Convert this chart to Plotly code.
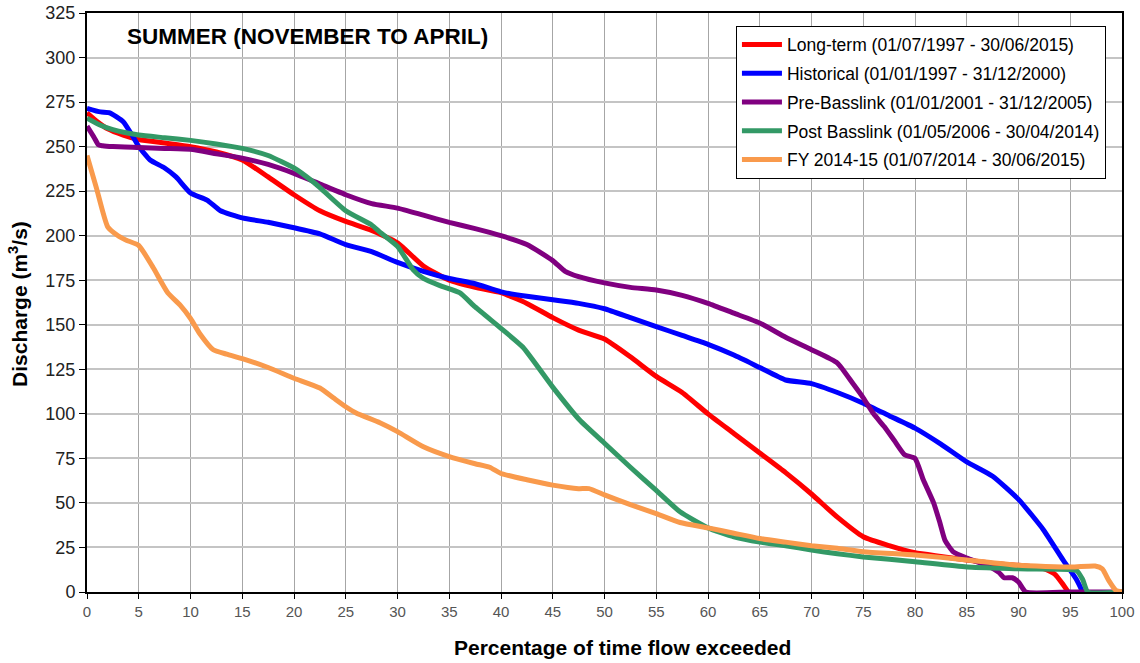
import plotly.graph_objects as go

# ---- data ----
longterm_x = [0, 1, 2, 3.5, 5, 7.5, 10, 12.5, 15, 17.5, 20, 22.5, 25, 27.5, 30, 32.5, 35, 37.5, 40, 42.5, 45, 47.5,
              50, 52.5, 55, 57.5, 60, 62.5, 65, 67.5, 70, 72.5, 75, 77.5, 80, 82.5, 85, 87.5, 90, 92.5, 93.5, 94.2, 94.8]
longterm_y = [269, 264, 260, 256.5, 254, 252, 250, 247, 242.5, 233, 223, 214, 208, 203, 196, 183, 175, 171, 168, 162, 154, 147,
              142, 132, 121, 112, 100, 89, 78, 67, 55, 42, 31, 26, 22, 20, 18, 16, 15, 13, 10, 5, 0]

hist_x = [0, 1.3, 2.2, 3.5, 4.4, 5, 6.1, 7.5, 8.6, 10, 11.6, 12.9, 15, 17.5, 20, 22.5, 25, 27.5, 30, 32.5, 35, 37.5,
          40, 42.5, 45, 47.5, 50, 52.5, 55, 57.5, 60, 62.5, 65, 67.5, 70, 72.5, 75, 77.5, 80, 82.5, 85, 87.5, 90,
          92.4, 94.3, 95.6, 96.2]
hist_y = [271.5, 269.5, 269, 264, 256, 250, 242.5, 238, 233, 224, 220, 214, 210, 207.5, 204.5, 201, 195, 191, 185, 180,
          176, 173, 168.5, 166, 164, 162, 159, 154, 149, 144, 139, 133, 126, 119, 117, 112, 106, 99, 92, 83, 73, 65,
          52, 35, 18, 7, 0]

pre_x = [0, 0.7, 1.1, 1.5, 2.5, 5, 7.5, 10, 12.5, 15, 17.5, 20, 22.5, 25, 27.5, 30, 32.5, 35, 37.5, 40, 42.5, 45,
         46.2, 47.5, 50, 52.5, 55, 57.5, 60, 62.5, 65, 67.5, 70, 72.5, 74, 75, 76, 77, 78, 79, 80, 80.8, 81.8, 82.4,
         82.9, 83.7, 85, 86.9, 88.1, 88.6, 89.4, 90, 90.7, 95, 100]
pre_y = [261.5, 255, 251, 250.5, 250, 249.5, 249, 248.5, 246, 243.5, 240, 235, 229, 223, 218, 215.5, 211.5, 207.5,
         204, 200, 195, 186, 180, 177, 173.5, 171, 169.5, 166.5, 162, 156.5, 151, 143, 136, 128.5, 117, 109, 100, 93,
         85, 77, 75, 63, 50, 39, 29, 22.5, 19, 15, 11, 8, 8, 5.6, 0, 0, 0]

post_x = [0, 1.3, 2.5, 5, 7.5, 10, 12.5, 15, 17.5, 20, 21.9, 22.5, 25, 27.5, 28.3, 30, 31.5, 32.5, 34.1, 36, 37.5,
          40, 42.1, 45, 47.6, 50, 52.5, 55, 57.3, 60, 62.5, 65, 67.5, 70, 72.5, 75, 80, 85, 90, 95.6, 96.2, 96.7, 100]
post_y = [266, 262, 259.5, 256.5, 255, 253.5, 251.5, 249, 245, 238, 230, 227, 214, 206, 202, 194, 181, 176, 172, 168,
          160, 148, 137.5, 115, 96.5, 83.5, 70, 57, 45, 36, 31, 28, 26, 23.5, 21.5, 19.7, 17, 14, 13, 12, 7, 0, 0]

fy_x = [0, 0.9, 2, 3, 3.8, 5, 6.4, 7.8, 9, 10, 10.9, 12.2, 13.5, 15, 17.5, 20, 22.5, 23.8, 25, 26, 28.3, 30, 32.5,
        35, 37.5, 38.9, 40, 42.5, 45, 47.5, 48.5, 50, 52.5, 55, 57.3, 60, 62.5, 65, 67.5, 70, 72.5, 75, 80, 85, 90,
        95.1, 97.4, 98.1, 98.7, 99.4, 100]
fy_y = [245, 227, 205, 200, 197.5, 194.5, 182, 168, 161, 153.5, 145, 136, 133.5, 131, 126, 120, 114.5, 109, 104,
        100.5, 95, 90, 81.5, 76, 72, 70, 66.5, 63, 60, 58, 58, 54.5, 49, 44, 39, 36, 33, 30, 28, 26, 24.5, 22.6,
        20.8, 18, 15, 14, 14.6, 13, 6.7, 1, 0]

series_names = ["Long-term (01/07/1997 - 30/06/2015)",
                "Historical (01/01/1997 - 31/12/2000)",
                "Pre-Basslink (01/01/2001 - 31/12/2005)",
                "Post Basslink (01/05/2006 - 30/04/2014)",
                "FY 2014-15 (01/07/2014 - 30/06/2015)"]
series_x = [longterm_x, hist_x, pre_x, post_x, fy_x]
series_y = [longterm_y, hist_y, pre_y, post_y, fy_y]
series_colors = ["#ff0000", "#0000ff", "#800080", "#339966", "#f99a4c"]

x_ticks = list(range(0, 101, 5))
y_ticks = list(range(0, 326, 25))

FONT = "Arial, 'Liberation Sans', sans-serif"

fig = go.Figure()
for i, (name, xs, ys, col) in enumerate(zip(series_names, series_x, series_y, series_colors)):
    fig.add_trace(go.Scatter(
        x=xs, y=ys, mode="lines", name=name, legendgroup=f"g{i}",
        line=dict(color=col, width=5, shape="spline", smoothing=0.5),
    ))

fig.update_layout(
    width=1140, height=663,
    margin=dict(l=87, r=18, t=13, b=71),
    paper_bgcolor="white", plot_bgcolor="white",
    font=dict(family=FONT, color="black"),
    showlegend=True,
    legend=dict(
        x=0.627, y=0.978, xanchor="left", yanchor="top",
        bgcolor="white", bordercolor="black", borderwidth=1,
        font=dict(family=FONT, size=17.5, color="black"),
        traceorder="grouped", tracegroupgap=3, itemwidth=40,
    ),
    annotations=[
        dict(text="<b>SUMMER (NOVEMBER TO APRIL)</b>", x=0.037, y=0.96, xref="paper", yref="paper",
             xanchor="left", yanchor="middle", showarrow=False,
             font=dict(family=FONT, size=22.5, color="black")),
        dict(text="<b>Percentage of time flow exceeded</b>", x=0.517, y=-0.095, xref="paper", yref="paper",
             xanchor="center", yanchor="middle", showarrow=False,
             font=dict(family=FONT, size=21, color="black")),
        dict(text="<b>Discharge (m<sup>3</sup>/s)</b>", x=-0.066, y=0.497, xref="paper", yref="paper",
             xanchor="center", yanchor="middle", showarrow=False, textangle=-90,
             font=dict(family=FONT, size=21, color="black")),
    ],
)

fig.update_xaxes(
    range=[0, 100], tickvals=x_ticks, ticktext=[str(v) for v in x_ticks],
    showgrid=True, gridcolor="#a6a6a6", gridwidth=1,
    showline=True, linecolor="black", linewidth=2, mirror=True,
    ticks="outside", ticklen=5, tickcolor="black",
    tickfont=dict(family=FONT, size=15, color="#555555"),
    zeroline=False, automargin=False,
)
fig.update_yaxes(
    range=[0, 325], tickvals=y_ticks, ticktext=[str(v) for v in y_ticks],
    showgrid=True, gridcolor="#c4c4c4", gridwidth=1.5,
    showline=True, linecolor="black", linewidth=2, mirror=True,
    ticks="outside", ticklen=6, tickcolor="black",
    tickfont=dict(family=FONT, size=18, color="#222222"),
    zeroline=False, automargin=False,
)

fig.write_html("out.html", config={"displayModeBar": False},
               post_script="document.body.style.margin='0px';")
